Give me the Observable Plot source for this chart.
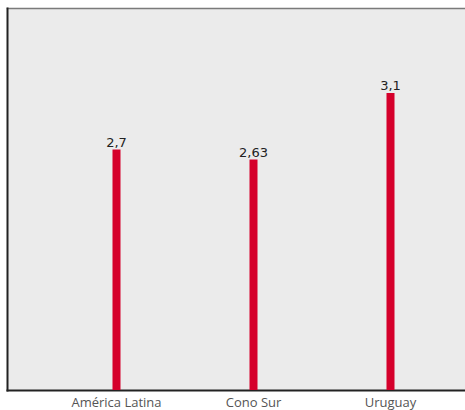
<!DOCTYPE html>
<html>
<head>
<meta charset="utf-8">
<script src="https://cdn.jsdelivr.net/npm/d3@7"></script>
<script src="https://cdn.jsdelivr.net/npm/@observablehq/plot@0.6"></script>
<style>
  html, body { margin: 0; padding: 0; background: #fff; }
  svg { display: block; }
</style>
</head>
<body>
<div id="chart"></div>
<script>
const categories = ["América Latina", "Cono Sur", "Uruguay"];
const values = [2.7, 2.63, 3.1];
const valueLabels = ["2,7", "2,63", "3,1"];

const data = categories.map((c, i) => ({cat: c, value: values[i], label: valueLabels[i]}));
const base = 1;

const plot = Plot.plot({
  width: 465,
  height: 410,
  marginTop: 8,
  marginLeft: 7,
  marginRight: 0,
  marginBottom: 20,
  style: {fontFamily: "Open Sans, sans-serif", background: "#fff"},
  x: {type: "point", domain: categories, padding: 0.66, align: 0.59, label: null},
  y: {domain: [1, 3.7], axis: null},
  marks: [
    Plot.frame({fill: "#ebebeb"}),
    Plot.frame({anchor: "top", stroke: "#7a7a7a", strokeWidth: 1.5}),
    Plot.frame({anchor: "left", stroke: "#222", strokeWidth: 2}),
    Plot.frame({anchor: "bottom", stroke: "#222", strokeWidth: 2}),
    Plot.ruleX(data, {x: "cat", y1: () => base, y2: "value", stroke: "#d5002b", strokeWidth: 8}),
    Plot.text(data, {x: "cat", y: "value", text: "label", lineAnchor: "bottom", dy: -3, fontSize: 13, fontFamily: "DejaVu Sans", fill: "#222"}),
    Plot.axisX({tickSize: 0, tickPadding: 7, fontSize: 13, color: "#555"})
  ]
});
document.getElementById("chart").appendChild(plot);
</script>
</body>
</html>
